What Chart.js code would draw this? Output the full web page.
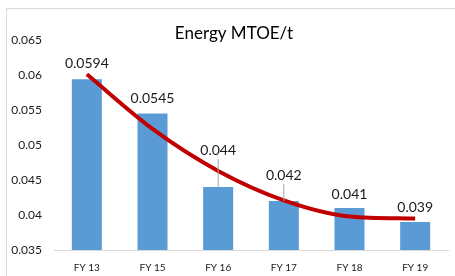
<!DOCTYPE html>
<html>
<head>
<meta charset="utf-8">
<script src="https://cdn.jsdelivr.net/npm/chart.js@4"></script>
<style>
  html, body { margin: 0; padding: 0; background: #fff; }
  #wrap { position: relative; width: 455px; height: 276px; }
  #frame { position: absolute; left: 6px; top: 8px; right: 0; bottom: 0;
           border-top: 1px solid #d9d9d9; border-left: 1px solid #d9d9d9; }
  canvas { position: absolute; left: 0; top: 0; }
</style>
</head>
<body>
<div id="wrap">
  <div id="frame"></div>
  <canvas id="chart" width="455" height="276"></canvas>
</div>
<script>
// values
const years = ["FY 13", "FY 15", "FY 16", "FY 17", "FY 18", "FY 19"];
const energy = [0.0594, 0.0545, 0.044, 0.042, 0.041, 0.039];
const energyLabels = ["0.0594", "0.0545", "0.044", "0.042", "0.041", "0.039"];
// polynomial trendline, read at each category
const trend = [0.0601, 0.0523, 0.0463, 0.0421, 0.0398, 0.0395];
const yTicks = [0.035, 0.04, 0.045, 0.05, 0.055, 0.06, 0.065];

const font = "Lato, 'Open Sans', sans-serif";

// labels moved up by hand in the original (px above bar top), leader lines on some
const labelLift = [16, 15, 37, 26, 14, 15];
const leader = [false, false, true, true, false, false];

const labelPlugin = {
  id: "barLabels",
  afterDatasetsDraw(chart) {
    const ctx = chart.ctx;
    const meta = chart.getDatasetMeta(1);
    ctx.save();
    ctx.font = "14px " + font;
    ctx.textAlign = "center";
    ctx.textBaseline = "middle";
    meta.data.forEach((bar, i) => {
      const y = bar.y - labelLift[i];
      if (leader[i]) {
        ctx.strokeStyle = "#a6a6a6";
        ctx.lineWidth = 1;
        ctx.beginPath();
        ctx.moveTo(bar.x, y + 9);
        ctx.lineTo(bar.x, bar.y);
        ctx.stroke();
      }
      ctx.fillStyle = "#1a1a1a";
      ctx.fillText(energyLabels[i], bar.x, y);
    });
    ctx.restore();
  }
};

const titlePlugin = {
  id: "plotTitle",
  afterDraw(chart) {
    const ctx = chart.ctx;
    ctx.save();
    ctx.font = "17px " + font;
    ctx.fillStyle = "#000";
    ctx.textAlign = "center";
    ctx.textBaseline = "middle";
    ctx.fillText("Energy MTOE/t", 234, 34);
    ctx.restore();
  }
};

new Chart(document.getElementById("chart"), {
  data: {
    labels: years,
    datasets: [
      {
        type: "line",
        data: trend,
        borderColor: "#c00000",
        borderWidth: 4,
        pointRadius: 0,
        cubicInterpolationMode: "monotone",
        order: 0,
      },
      {
        type: "bar",
        data: energy,
        backgroundColor: "#5b9bd5",
        categoryPercentage: 1,
        barPercentage: 0.457,
        order: 1,
      },
    ],
  },
  options: {
    responsive: false,
    animation: false,
    layout: { padding: { top: 40, right: 7, left: 0, bottom: 0 } },
    plugins: { legend: { display: false }, tooltip: { enabled: false } },
    scales: {
      x: {
        grid: { display: false, drawTicks: false },
        border: { display: true, color: "#d9d9d9" },
        ticks: { color: "#1a1a1a", font: { family: font, size: 10 }, padding: 12 },
        afterFit(s) { s.height = 26; },
      },
      y: {
        min: 0.035,
        max: 0.065,
        grid: { display: false, drawTicks: false },
        border: { display: false },
        afterBuildTicks(s) { s.ticks = yTicks.map(v => ({ value: v })); },
        ticks: {
          color: "#1a1a1a",
          font: { family: font, size: 12 },
          padding: 12,
          callback: v => String(+v.toFixed(3)),
        },
        afterFit(s) { s.width = 54; },
      },
    },
  },
  plugins: [labelPlugin, titlePlugin],
});
</script>
</body>
</html>
